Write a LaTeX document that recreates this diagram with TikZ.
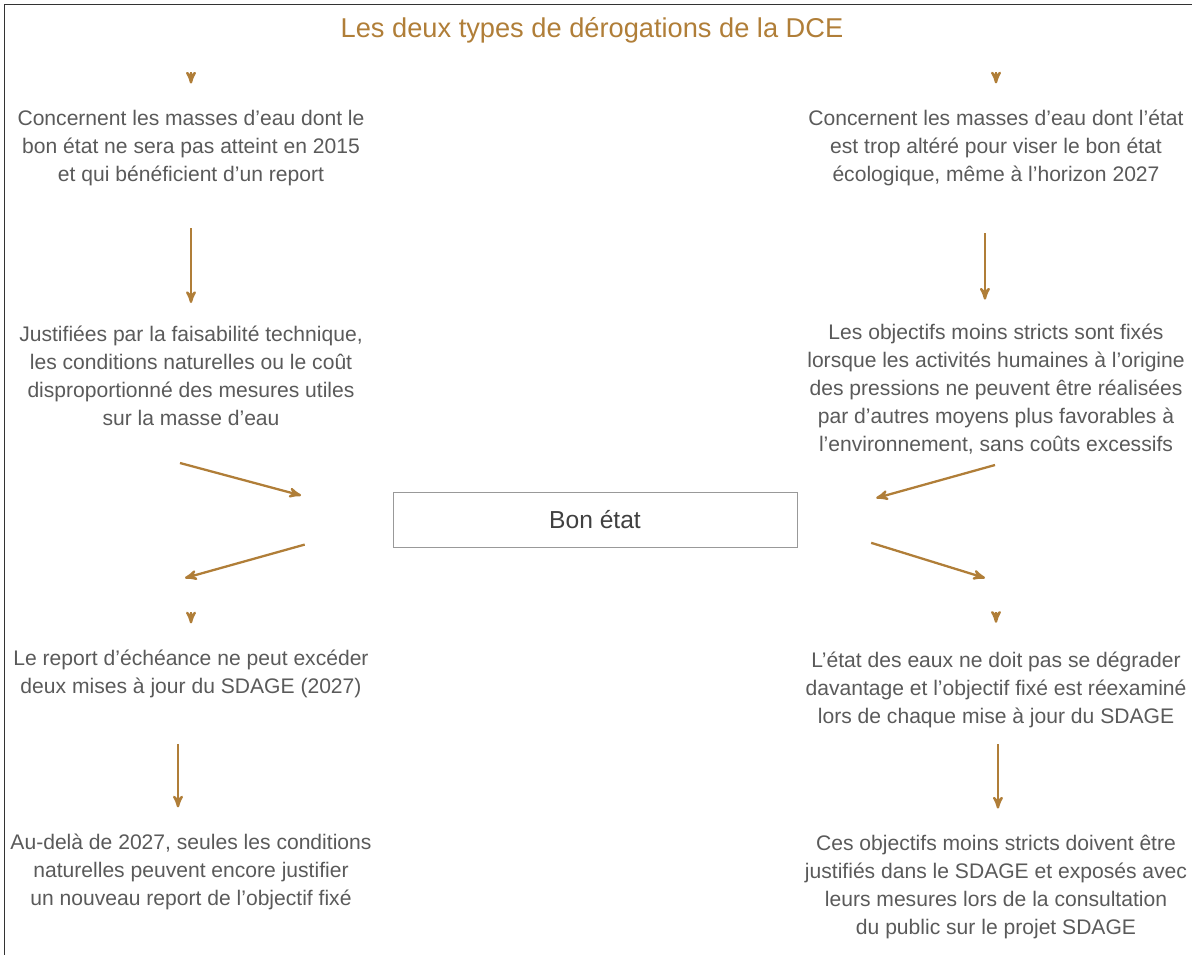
\documentclass[tikz,border=0pt]{standalone}
\usepackage{fontspec}
\setmainfont{Liberation Sans}
\usetikzlibrary{arrows}
\definecolor{ochre}{RGB}{176,126,56}
\definecolor{inkgrey}{RGB}{90,90,90}

\begin{document}
\begin{tikzpicture}[x=0.02cm,y=-0.02cm,>=stealth',
  text block/.style={align=center,text=inkgrey,inner sep=0pt,font=\fontsize{12}{15.9}\selectfont},
  flow/.style={->,draw=ochre,line width=1.3pt},
  centre box/.style={draw=gray!80,minimum width=8.08cm,minimum height=1.1cm,font=\fontsize{14}{16}\selectfont,text=black!75}]
  \useasboundingbox (0,0) rectangle (1192,954);
  \draw[black!80] (4,4) rectangle (1260,1010);

  \node[text=ochre,font=\fontsize{15.5}{18}\selectfont] (title) at (592,30) {Les deux types de dérogations de la DCE};

  \node[text block] (l1) at (191,148) {Concernent les masses d'eau dont le\\bon état ne sera pas atteint en 2015\\et qui bénéficient d'un report};
  \node[text block] (l2) at (191,376) {Justifiées par la faisabilité technique,\\les conditions naturelles ou le coût\\disproportionné des mesures utiles\\sur la masse d'eau};
  \node[text block] (l3) at (191,674) {Le report d'échéance ne peut excéder\\deux mises à jour du SDAGE (2027)};
  \node[text block] (l4) at (191,872) {Au-delà de 2027, seules les conditions\\naturelles peuvent encore justifier\\un nouveau report de l'objectif fixé};

  \node[text block] (r1) at (996,148) {Concernent les masses d'eau dont l'état\\est trop altéré pour viser le bon état\\écologique, même à l'horizon 2027};
  \node[text block] (r2) at (996,389) {Les objectifs moins stricts sont fixés\\lorsque les activités humaines à l'origine\\des pressions ne peuvent être réalisées\\par d'autres moyens plus favorables à\\l'environnement, sans coûts excessifs};
  \node[text block] (r3) at (996,690) {L'état des eaux ne doit pas se dégrader\\davantage et l'objectif fixé est réexaminé\\lors de chaque mise à jour du SDAGE};
  \node[text block] (r4) at (996,887) {Ces objectifs moins stricts doivent être\\justifiés dans le SDAGE et exposés avec\\leurs mesures lors de la consultation\\du public sur le projet SDAGE};

  \node[centre box] (box) at (595,520) {Bon état};

  % points d'entree et de sortie
  \coordinate (l1top) at (191,72);
  \coordinate (r1top) at (996,72);
  \coordinate (l3top) at (191,612);
  \coordinate (r3top) at (996,612);
  \coordinate (lin) at (180,463);
  \coordinate (lout) at (185,578);
  \coordinate (rin) at (995,465);
  \coordinate (rout) at (985,578);

  \draw[flow,shorten >=15pt] (l1top) -- (l1);
  \draw[flow,shorten >=15pt] (r1top) -- (r1);
  \draw[flow,shorten >=15pt] (l3top) -- (l3);
  \draw[flow,shorten >=16.5pt] (r3top) -- (r3);

  \draw[flow,shorten <=24pt,shorten >=13pt] (l1) -- (l2);
  \draw[flow,shorten <=26.7pt,shorten >=13.7pt] ([xshift=-6.3pt]r1.south) -- ([xshift=-6.3pt]r2.north);
  \draw[flow,shorten <=26pt,shorten >=15pt] ([xshift=-7.4pt]l3.south) -- ([xshift=-7.4pt]l4.north);
  \draw[flow,shorten <=9pt,shorten >=15pt] ([xshift=1.1pt]r3.south) -- ([xshift=1.1pt]r4.north);

  \draw[flow,shorten >=54pt] (lin) -- (box.west);
  \draw[flow,shorten <=52pt] (box.west) -- (lout);
  \draw[flow,shorten >=46.6pt] (rin) -- (box.east);
  \draw[flow,shorten <=44pt] (box.east) -- (rout);
\end{tikzpicture}
\end{document}
